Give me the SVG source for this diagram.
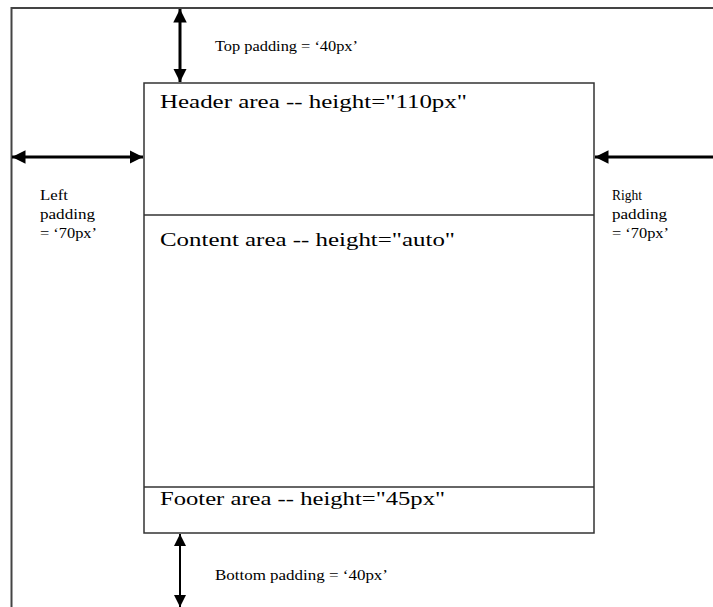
<svg xmlns="http://www.w3.org/2000/svg" width="713" height="607" viewBox="0 0 713 607">
<style>
.frame{fill:none;stroke:#444;stroke-width:2}
.box{fill:#fff;stroke:#333;stroke-width:1.5}
.div{stroke:#333;stroke-width:1.5}
.arr{stroke:#000;stroke-width:3;fill:none}
.arr2{stroke:#000;stroke-width:2;fill:none}
.big{font-family:"Liberation Serif","Times New Roman",serif;font-size:19px;fill:#000}
.small{font-family:"Liberation Serif","Times New Roman",serif;font-size:15px;fill:#000}
</style>
<defs>
<marker id="ah" viewBox="0 0 10 10" refX="10" refY="5" markerWidth="4.5" markerHeight="4.5" markerUnits="strokeWidth" orient="auto-start-reverse">
<path d="M0,0 L10,5 L0,10 z" fill="#000"/>
</marker>
<marker id="ah2" viewBox="0 0 10 10" refX="10" refY="5" markerWidth="6" markerHeight="6" markerUnits="strokeWidth" orient="auto-start-reverse">
<path d="M0,0 L10,5 L0,10 z" fill="#000"/>
</marker>
</defs>
<rect width="713" height="607" fill="#fff"/>
<g id="frame">
<path class="frame" d="M11.5,607 L11.5,8 L713,8"/>
</g>
<g id="page">
<rect class="box" x="144" y="83" width="450" height="450"/>
</g>
<g id="header">
<line class="div" x1="144" y1="215" x2="594" y2="215"/>
<text class="big" x="160" y="108" textLength="307" lengthAdjust="spacingAndGlyphs">Header area -- height="110px"</text>
</g>
<g id="content">
<text class="big" x="160" y="246" textLength="295" lengthAdjust="spacingAndGlyphs">Content area -- height="auto"</text>
</g>
<g id="footer">
<line class="div" x1="144" y1="487" x2="594" y2="487"/>
<text class="big" x="160" y="505" textLength="285" lengthAdjust="spacingAndGlyphs">Footer area -- height="45px"</text>
</g>
<g id="connectors">
<line class="arr" x1="180" y1="9" x2="180" y2="82" marker-start="url(#ah)" marker-end="url(#ah)"/>
<line class="arr" x1="12" y1="157" x2="143" y2="157" marker-start="url(#ah)" marker-end="url(#ah)"/>
<line class="arr" x1="713" y1="157" x2="595" y2="157" marker-end="url(#ah)"/>
<line class="arr2" x1="180" y1="534" x2="180" y2="607" marker-start="url(#ah2)" marker-end="url(#ah2)"/>
</g>
<g id="labels">
<text class="small" x="215" y="51" textLength="143" lengthAdjust="spacingAndGlyphs">Top padding = ‘40px’</text>
<text class="small" x="215" y="580" textLength="173" lengthAdjust="spacingAndGlyphs">Bottom padding = ‘40px’</text>
<text class="small" x="40" y="200" textLength="28" lengthAdjust="spacingAndGlyphs">Left</text>
<text class="small" x="40" y="219" textLength="55" lengthAdjust="spacingAndGlyphs">padding</text>
<text class="small" x="40" y="238" textLength="57" lengthAdjust="spacingAndGlyphs">= ‘70px’</text>
<text class="small" x="612" y="200" textLength="30" lengthAdjust="spacingAndGlyphs">Right</text>
<text class="small" x="612" y="219" textLength="55" lengthAdjust="spacingAndGlyphs">padding</text>
<text class="small" x="612" y="238" textLength="57" lengthAdjust="spacingAndGlyphs">= ‘70px’</text>
</g>
</svg>
